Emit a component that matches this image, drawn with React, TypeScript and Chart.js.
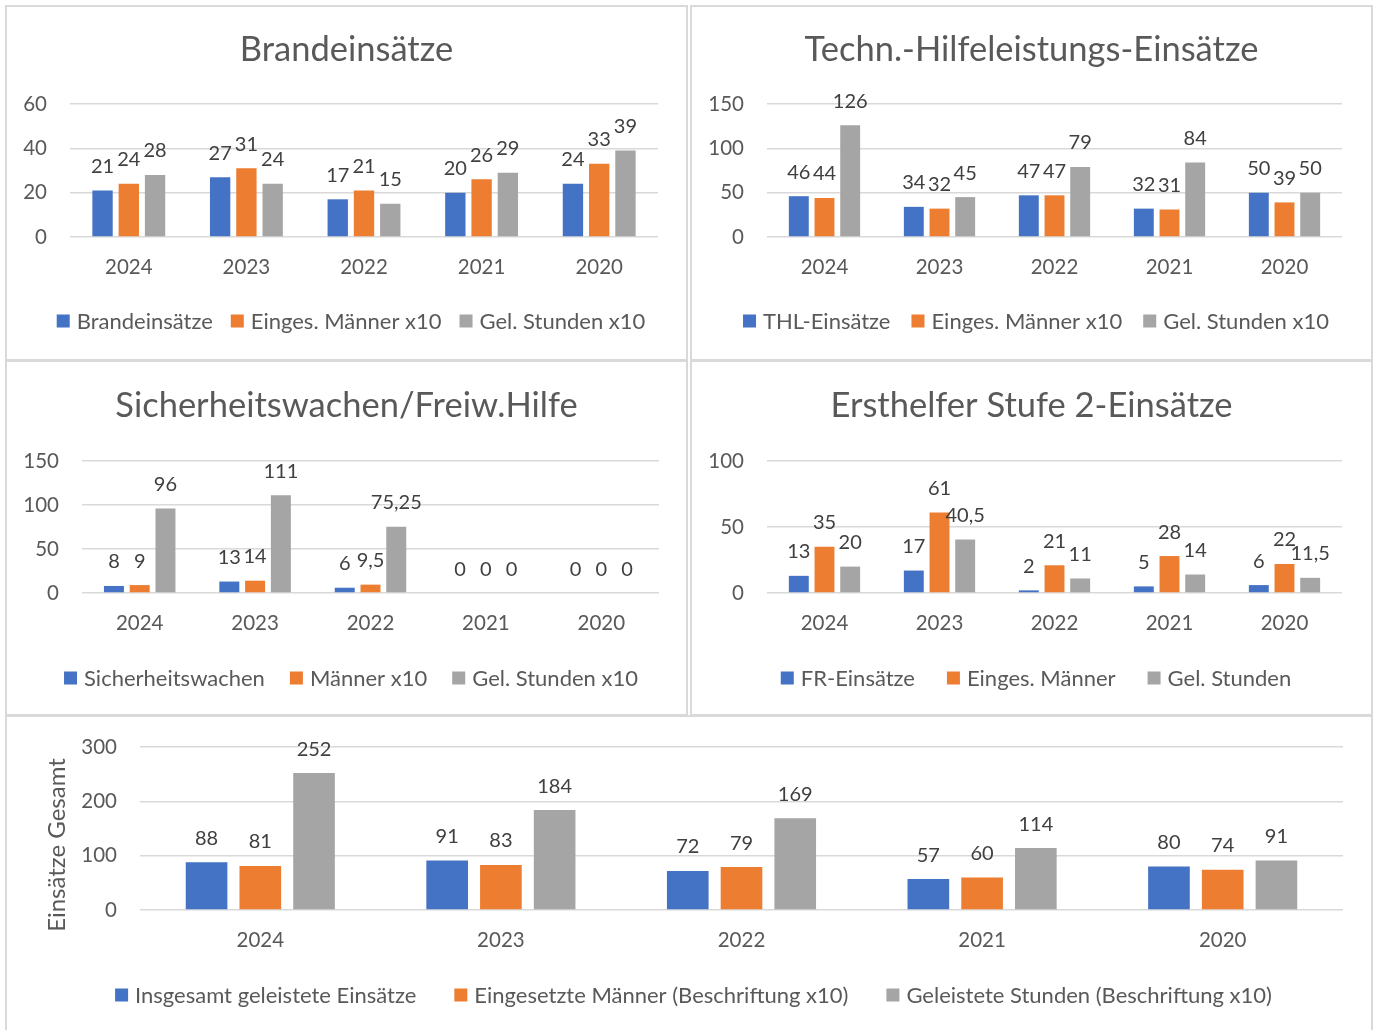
import React, { useEffect, useRef } from 'react';
import { Chart, registerables } from 'chart.js';

Chart.register(...registerables);

// ---------- DATA ----------
const years = ['2024', '2023', '2022', '2021', '2020'];

const brandTitle = 'Brandeinsätze';
const brandSeries = ['Brandeinsätze', 'Einges. Männer x10', 'Gel. Stunden x10'];
const brandEinsaetze = [21, 27, 17, 20, 24];
const brandMaenner = [24, 31, 21, 26, 33];
const brandStunden = [28, 24, 15, 29, 39];
const brandAxis = { max: 60, step: 20 };

const thlTitle = 'Techn.-Hilfeleistungs-Einsätze';
const thlSeries = ['THL-Einsätze', 'Einges. Männer x10', 'Gel. Stunden x10'];
const thlEinsaetze = [46, 34, 47, 32, 50];
const thlMaenner = [44, 32, 47, 31, 39];
const thlStunden = [126, 45, 79, 84, 50];
const thlAxis = { max: 150, step: 50 };

const sichTitle = 'Sicherheitswachen/Freiw.Hilfe';
const sichSeries = ['Sicherheitswachen', 'Männer x10', 'Gel. Stunden x10'];
const sichWachen = [8, 13, 6, 0, 0];
const sichMaenner = [9, 14, 9.5, 0, 0];
const sichStunden = [96, 111, 75.25, 0, 0];
const sichAxis = { max: 150, step: 50 };

const frTitle = 'Ersthelfer Stufe 2-Einsätze';
const frSeries = ['FR-Einsätze', 'Einges. Männer', 'Gel. Stunden'];
const frEinsaetze = [13, 17, 2, 5, 6];
const frMaenner = [35, 61, 21, 28, 22];
const frStunden = [20, 40.5, 11, 14, 11.5];
const frAxis = { max: 100, step: 50 };

const totalSeries = [
  'Insgesamt geleistete Einsätze',
  'Eingesetzte Männer (Beschriftung x10)',
  'Geleistete Stunden (Beschriftung x10)',
];
const totalEinsaetze = [88, 91, 72, 57, 80];
const totalMaenner = [81, 83, 79, 60, 74];
const totalStunden = [252, 184, 169, 114, 91];
const totalAxis = { max: 300, step: 100 };
const totalAxisTitle = 'Einsätze Gesamt';

// ---------- STYLE ----------
const COLORS = ['#4472C4', '#ED7D31', '#A5A5A5'];
const FONT = 'Lato, "Open Sans", sans-serif';
const TEXT = '#595959';
const LABEL_COLOR = '#404040';
const GRID = '#D9D9D9';
const TITLE_SIZE = 34.5;
const TICK_SIZE = 20.5;
const LABEL_SIZE = 20;
const LEGEND_SIZE = 22;
const AXIS_TITLE_SIZE = 24;
const LABEL_GAP = 17.5;

const fmt = (v: number) => String(v).replace('.', ',');

type PanelDef = {
  title?: string;
  series: string[];
  values: number[][];
  axis: { max: number; step: number };
  box: { left: number; top: number; width: number; height: number; noBottom?: boolean };
  yw: number;
  pr: number;
  pt: number;
  pb: number;
  titleY: number;
  legendY: number;
  legendGap: number;
  axisTitle?: string;
  axisTitleX?: number;
  axisTitleY?: number;
};

const panels: PanelDef[] = [
  {
    title: brandTitle, series: brandSeries, values: [brandEinsaetze, brandMaenner, brandStunden], axis: brandAxis,
    box: { left: 5, top: 5, width: 683, height: 356 }, yw: 63, pr: 28, pt: 97, pb: 122, titleY: 42.5, legendY: 314, legendGap: 18,
  },
  {
    title: thlTitle, series: thlSeries, values: [thlEinsaetze, thlMaenner, thlStunden], axis: thlAxis,
    box: { left: 690, top: 5, width: 683, height: 356 }, yw: 75, pr: 29, pt: 97, pb: 122, titleY: 42.5, legendY: 314, legendGap: 21,
  },
  {
    title: sichTitle, series: sichSeries, values: [sichWachen, sichMaenner, sichStunden], axis: sichAxis,
    box: { left: 5, top: 360, width: 683, height: 356 }, yw: 75, pr: 27, pt: 99, pb: 121, titleY: 43.5, legendY: 316, legendGap: 25,
  },
  {
    title: frTitle, series: frSeries, values: [frEinsaetze, frMaenner, frStunden], axis: frAxis,
    box: { left: 690, top: 360, width: 683, height: 356 }, yw: 75, pr: 29, pt: 99, pb: 121, titleY: 43.5, legendY: 316, legendGap: 32,
  },
  {
    series: totalSeries, values: [totalEinsaetze, totalMaenner, totalStunden], axis: totalAxis,
    box: { left: 5, top: 715, width: 1368, height: 315, noBottom: true }, yw: 133, pr: 28, pt: 30, pb: 120, titleY: 0, legendY: 278, legendGap: 38,
    axisTitle: totalAxisTitle, axisTitleX: 50, axisTitleY: 128,
  },
];

const X_AXIS_H = 50;

function Panel({ def }: { def: PanelDef }) {
  const ref = useRef<HTMLCanvasElement | null>(null);
  const cw = def.box.width - 4;
  const ch = def.box.height - (def.box.noBottom ? 2 : 4);

  useEffect(() => {
    if (!ref.current) return;
    const overlay = {
      id: 'overlay',
      afterDatasetsDraw(chart: any) {
        const ctx = chart.ctx;
        ctx.save();
        ctx.font = `${LABEL_SIZE}px ${FONT}`;
        ctx.fillStyle = LABEL_COLOR;
        ctx.textAlign = 'center';
        ctx.textBaseline = 'alphabetic';
        chart.data.datasets.forEach((ds: any, i: number) => {
          const meta = chart.getDatasetMeta(i);
          meta.data.forEach((el: any, j: number) => {
            ctx.fillText(fmt(ds.data[j]), el.x, el.y - LABEL_GAP);
          });
        });
        ctx.restore();
      },
      afterDraw(chart: any) {
        const ctx = chart.ctx;
        const w = chart.width;
        ctx.save();
        if (def.title) {
          ctx.font = `${TITLE_SIZE}px ${FONT}`;
          ctx.fillStyle = TEXT;
          ctx.textAlign = 'center';
          ctx.textBaseline = 'middle';
          ctx.fillText(def.title, w / 2, def.titleY);
        }
        if (def.axisTitle) {
          ctx.save();
          ctx.translate(def.axisTitleX, def.axisTitleY);
          ctx.rotate(-Math.PI / 2);
          ctx.font = `${AXIS_TITLE_SIZE}px ${FONT}`;
          ctx.fillStyle = TEXT;
          ctx.textAlign = 'center';
          ctx.textBaseline = 'middle';
          ctx.fillText(def.axisTitle, 0, 0);
          ctx.restore();
        }
        // legend
        ctx.font = `${LEGEND_SIZE}px ${FONT}`;
        const box = 13;
        const tgap = 7;
        const widths = def.series.map((s) => box + tgap + ctx.measureText(s).width);
        const total = widths.reduce((a, b) => a + b, 0) + def.legendGap * (widths.length - 1);
        let x = w / 2 + 4.5 - total / 2;
        def.series.forEach((s, i) => {
          ctx.fillStyle = COLORS[i];
          ctx.fillRect(x, def.legendY - box / 2, box, box);
          ctx.fillStyle = TEXT;
          ctx.textAlign = 'left';
          ctx.textBaseline = 'middle';
          ctx.fillText(s, x + box + tgap, def.legendY + 1);
          x += widths[i] + def.legendGap;
        });
        ctx.restore();
      },
    };

    const chart = new Chart(ref.current, {
      type: 'bar',
      data: {
        labels: years,
        datasets: def.series.map((s, i) => ({
          label: s,
          data: def.values[i],
          backgroundColor: COLORS[i],
          borderWidth: 0,
          categoryPercentage: 0.67,
          barPercentage: 0.775,
        })),
      },
      options: {
        responsive: false,
        maintainAspectRatio: false,
        animation: false,
        layout: { padding: { left: 0, right: def.pr, top: def.pt, bottom: def.pb - X_AXIS_H } },
        plugins: { legend: { display: false }, title: { display: false }, tooltip: { enabled: false } },
        scales: {
          x: {
            grid: { display: false, drawTicks: false },
            border: { display: false },
            ticks: { color: TEXT, font: { family: FONT, size: TICK_SIZE }, padding: 18 },
            afterFit: (scale: any) => {
              scale.height = X_AXIS_H;
              scale.paddingLeft = 0;
              scale.paddingRight = 0;
            },
          },
          y: {
            min: 0,
            max: def.axis.max,
            grid: { color: GRID, lineWidth: 1.5, drawTicks: false },
            border: { display: false },
            ticks: { stepSize: def.axis.step, color: TEXT, font: { family: FONT, size: TICK_SIZE }, padding: 23 },
            afterFit: (scale: any) => {
              scale.width = def.yw;
              scale.paddingTop = 0;
              scale.paddingBottom = 0;
            },
          },
        },
      },
      plugins: [overlay],
    } as any);
    return () => chart.destroy();
  }, []);

  const b = def.box;
  return (
    <div
      style={{
        position: 'absolute',
        left: b.left,
        top: b.top,
        width: b.width,
        height: b.height,
        boxSizing: 'border-box',
        border: '2px solid #D9D9D9',
        borderBottom: b.noBottom ? 'none' : '2px solid #D9D9D9',
        background: '#fff',
      }}
    >
      <canvas ref={ref} width={cw} height={ch} style={{ display: 'block', width: cw, height: ch }} />
    </div>
  );
}

export default function App() {
  useEffect(() => {
    document.body.style.margin = '0';
    document.body.style.overflow = 'hidden';
    document.body.style.background = '#fff';
  }, []);
  return (
    <div style={{ position: 'relative', width: 1375, height: 1030, background: '#fff' }}>
      {panels.map((p, i) => (
        <Panel key={i} def={p} />
      ))}
    </div>
  );
}
